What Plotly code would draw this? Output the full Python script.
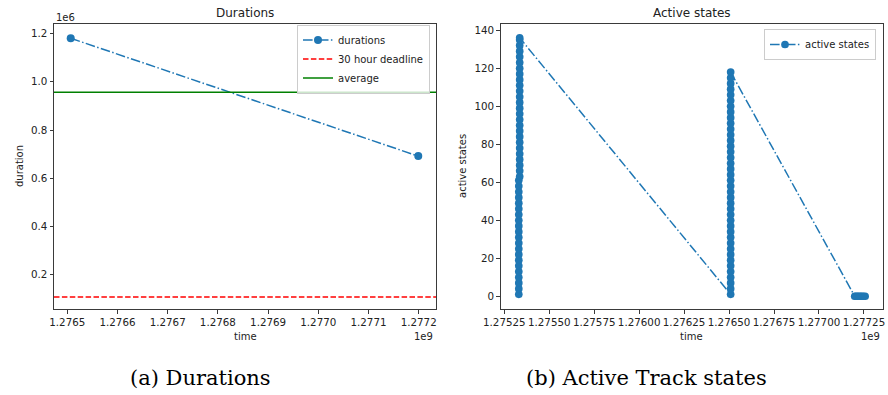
import plotly.graph_objects as go

# ---------------- data ----------------
# (a) Durations
duration_times = [1276506800, 1277199200]
duration_values = [1181000, 692000]
deadline_value = 108000          # 30 hours in seconds
average_value = 957000

# (b) Active states: clusters of samples (time of cluster, list of states)
c1_lower_time = 1275330600
c1_lower_states = [1, 4, 7, 10, 13, 16, 19, 22, 25, 28, 31, 34, 37, 40, 43, 46, 49, 52, 55, 58, 61]
c1_upper_time = 1275335600
c1_upper_states = [63, 66, 69, 72, 75, 78, 81, 84, 87, 90, 93, 96, 99, 102, 105, 108, 111, 114,
                   117, 120, 123, 126, 129, 132, 135, 136]
c2_time = 1276508800
c2_states = [1, 4, 7, 10, 13, 16, 19, 22, 25, 28, 31, 34, 37, 40, 43, 46, 49, 52, 55, 58, 61, 64,
             67, 70, 73, 76, 79, 82, 85, 88, 91, 94, 97, 100, 103, 106, 109, 112, 115, 118]
c3_times = [1277198800, 1277206000, 1277214000, 1277222000, 1277230000, 1277238000,
            1277246000, 1277256600]
c3_states = [0, 0, 0, 0, 0, 0, 0, 0]

# ticks
left_xtick_vals = [1276500000, 1276600000, 1276700000, 1276800000, 1276900000, 1277000000,
                   1277100000, 1277200000]
left_xtick_text = ["1.2765", "1.2766", "1.2767", "1.2768", "1.2769", "1.2770", "1.2771", "1.2772"]
left_ytick_vals = [200000, 400000, 600000, 800000, 1000000, 1200000]
left_ytick_text = ["0.2", "0.4", "0.6", "0.8", "1.0", "1.2"]
right_xtick_vals = [1275250000, 1275500000, 1275750000, 1276000000, 1276250000, 1276500000,
                    1276750000, 1277000000, 1277250000]
right_xtick_text = ["1.27525", "1.27550", "1.27575", "1.27600", "1.27625", "1.27650",
                    "1.27675", "1.27700", "1.27725"]
right_ytick_vals = [0, 20, 40, 60, 80, 100, 120, 140]

left_xrange = [1276473500, 1277234500]
left_yrange = [57700, 1240200]
right_xrange = [1275230000, 1277356000]
right_yrange = [-6.7, 143.3]

# ---------------- build ----------------
active_times = ([c1_lower_time] * len(c1_lower_states) + [c1_upper_time] * len(c1_upper_states)
                + [c2_time] * len(c2_states) + c3_times)
active_states = c1_lower_states + c1_upper_states + c2_states + c3_states

W, H = 888, 395
def px(x):
    return x / W
def py(y):
    return 1 - y / H

BLUE = "#1f77b4"
DASHDOT = "9.6px,2.4px,1.5px,2.4px"
FONT = "DejaVu Sans"
TXT = "#222222"
AX = "#3a3a3a"

fig = go.Figure()
fig.add_trace(go.Scatter(
    x=duration_times, y=duration_values, mode="lines+markers", name="durations",
    line=dict(color=BLUE, width=1.5, dash=DASHDOT), marker=dict(color=BLUE, size=8),
    xaxis="x", yaxis="y", legend="legend"))
fig.add_trace(go.Scatter(
    x=left_xrange, y=[deadline_value, deadline_value], mode="lines", name="30 hour deadline",
    line=dict(color="#ff0000", width=1.5, dash="5.5px,2.4px"),
    xaxis="x", yaxis="y", legend="legend"))
fig.add_trace(go.Scatter(
    x=left_xrange, y=[average_value, average_value], mode="lines", name="average",
    line=dict(color="#008000", width=1.5),
    xaxis="x", yaxis="y", legend="legend"))
fig.add_trace(go.Scatter(
    x=active_times, y=active_states, mode="lines+markers", name="active states",
    line=dict(color=BLUE, width=1.5, dash=DASHDOT), marker=dict(color=BLUE, size=7.7),
    xaxis="x2", yaxis="y2", legend="legend2"))

axis_common = dict(showline=True, mirror=True, linecolor=AX, linewidth=1, ticks="outside",
                   ticklen=3.5, tickwidth=1, tickcolor=AX, showgrid=False, zeroline=False,
                   tickfont=dict(family=FONT, size=10.3, color=TXT), tickangle=0,
                   automargin=False)

legend_common = dict(xanchor="right", yanchor="top", bordercolor="#cccccc", borderwidth=1,
                     bgcolor="rgba(255,255,255,0.8)", font=dict(family=FONT, size=10, color=TXT),
                     itemwidth=30, tracegroupgap=0)

fig.update_layout(
    width=W, height=H, margin=dict(l=0, r=0, t=0, b=0, autoexpand=False),
    paper_bgcolor="white", plot_bgcolor="white",
    xaxis=dict(domain=[px(54), px(436)], range=left_xrange, tickvals=left_xtick_vals,
               ticktext=left_xtick_text, anchor="y", **axis_common),
    yaxis=dict(domain=[py(309), py(24)], range=left_yrange, tickvals=left_ytick_vals,
               ticktext=left_ytick_text, anchor="x", **axis_common),
    xaxis2=dict(domain=[px(500.7), px(883)], range=right_xrange, tickvals=right_xtick_vals,
                ticktext=right_xtick_text, anchor="y2", **axis_common),
    yaxis2=dict(domain=[py(309), py(24)], range=right_yrange, tickvals=right_ytick_vals,
                anchor="x2", **axis_common),
    legend=dict(x=px(430), y=py(24.5), **legend_common),
    legend2=dict(x=px(876), y=py(29), **legend_common),
    showlegend=True,
)

def ann(text, x, y, size=10, xanchor="center", angle=0, family=FONT, color=TXT):
    fig.add_annotation(text=text, x=px(x), y=py(y), xref="paper", yref="paper",
                       xanchor=xanchor, yanchor="middle", showarrow=False, textangle=angle,
                       font=dict(family=family, size=size, color=color))

ann("Durations", 245, 13, size=12)
ann("Active states", 691.8, 13, size=12)
ann("duration", 19, 166, angle=-90)
ann("active states", 462, 166, angle=-90)
ann("time", 245, 336)
ann("time", 691.8, 336)
ann("1e6", 54, 17, xanchor="left")
ann("1e9", 435, 336, xanchor="right")
ann("1e9", 882, 336, xanchor="right")
ann("(a) Durations", 200, 378, size=21, family="DejaVu Serif", color="#000000")
ann("(b) Active Track states", 646.5, 378, size=21, family="DejaVu Serif", color="#000000")

fig.write_html("out.html")
